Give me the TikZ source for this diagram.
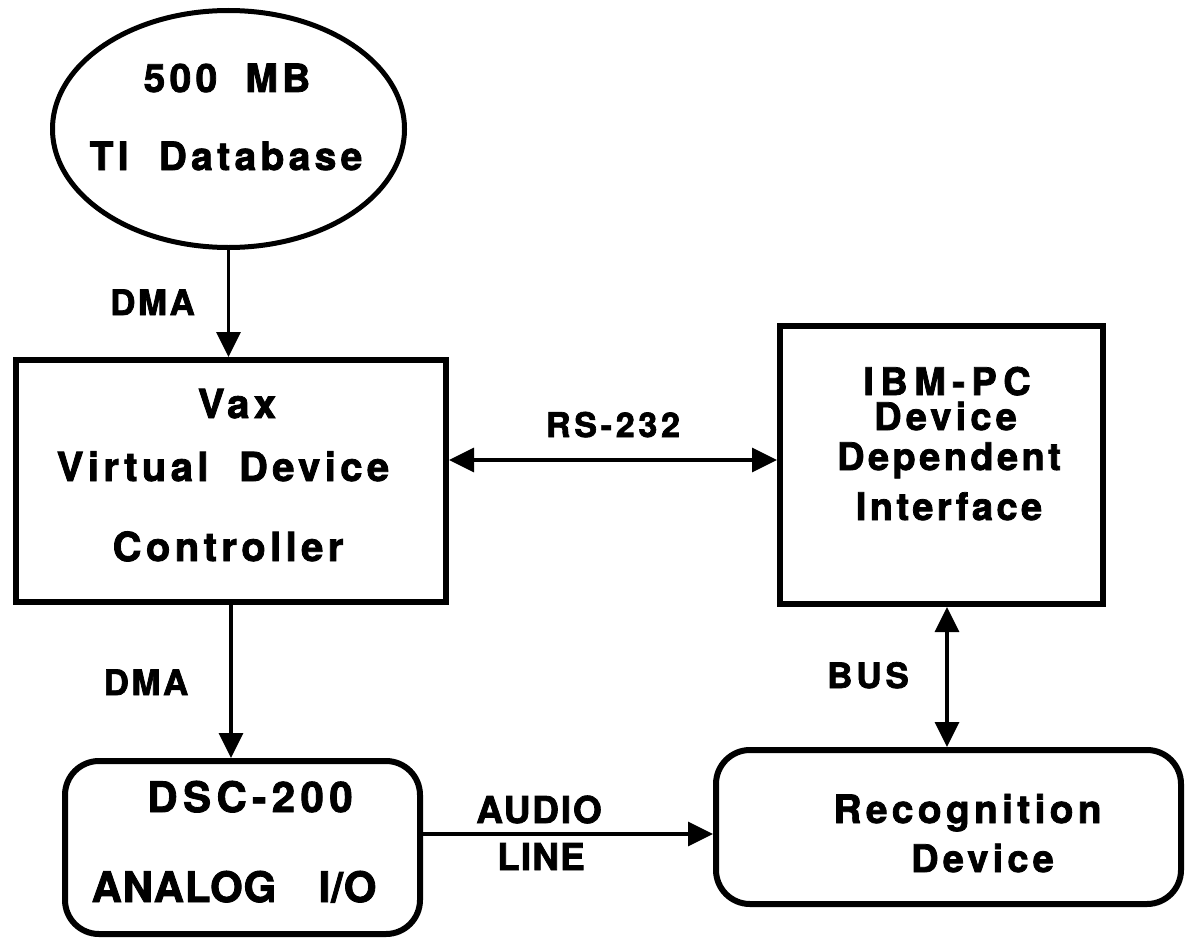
\documentclass[tikz,border=0pt]{standalone}
\usepackage{fontspec}
\setmainfont{TeX Gyre Heros}
\usetikzlibrary{shapes.geometric,arrows.meta}
\newcommand\tfnt[2]{\fontsize{#1}{#1}\selectfont\bfseries\addfontfeature{LetterSpace=#2,FakeBold=2}}
\tikzset{
  boxx/.style={draw, line width=6pt, inner sep=0pt, rectangle},
  rboxx/.style={boxx, rounded corners=34pt},
  ellx/.style={draw, line width=5pt, inner sep=0pt, ellipse},
  tx/.style={anchor=base, inner sep=0pt, font={\tfnt{40}{11}}},
  lbl/.style={anchor=base, inner sep=0pt, font={\tfnt{35}{7}}},
  arr/.style={line width=3.5pt, -{Triangle[length=25pt,width=24pt]}},
  biarr/.style={line width=3.5pt, {Triangle[length=25pt,width=24pt]}-{Triangle[length=25pt,width=24pt]}}
}
\begin{document}
\begin{tikzpicture}[x=1pt,y=-1pt]
\useasboundingbox (0,0) rectangle (1185,942);
% shapes
\node[ellx, minimum width=352pt, minimum height=237pt] (ell) at (228.5,129) {};
\node[boxx, minimum width=430pt, minimum height=242pt] (vax) at (231,481) {};
\node[boxx, minimum width=323pt, minimum height=278pt] (ibm) at (941.5,465) {};
\node[rboxx, minimum width=355pt, minimum height=173pt] (dsc) at (242.5,847.5) {};
\node[rboxx, minimum width=465pt, minimum height=154pt] (rec) at (948.5,827) {};
% texts
\node[tx, font={\tfnt{39}{11}}] (t1) at (227,92) {500\hspace{13pt} MB};
\node[tx, font={\tfnt{39}{11}}] (t2) at (226,170) {TI\hspace{15pt} Database};
\node[tx] (t3) at (237,418) {Vax};
\node[tx] (t4) at (223,481) {Virtual\hspace{15pt} Device};
\node[tx] (t5) at (228,561) {Controller};
\node[tx, font={\tfnt{38}{17}}] (t6) at (947,395) {IBM-PC};
\node[tx, font={\tfnt{38}{11}}] (t7) at (945.5,430) {Device};
\node[tx, font={\tfnt{38}{9}}] (t8) at (949,470) {Dependent};
\node[tx, font={\tfnt{38}{9}}] (t9) at (949,520) {Interface};
\node[tx, font={\tfnt{39}{11}}] (t10) at (967.5,823) {Recognition};
\node[tx, font={\tfnt{38}{11}}] (t11) at (982.5,872) {Device};
\node[tx, font={\tfnt{42}{13}}] (t12) at (250,812) {DSC-200};
\node[tx, font={\tfnt{42}{2}}] (t13) at (234,902) {ANALOG\hspace{30pt} I/O};
% labels
\node[lbl] (l1) at (152.5,315) {DMA};
\node[lbl] (l2) at (146,695) {DMA};
\node[lbl, font={\tfnt{34}{11}}] (l3) at (613,437) {RS-232};
\node[lbl, font={\tfnt{37}{5}}] (l4) at (539,823) {AUDIO};
\node[lbl, font={\tfnt{37}{3}}] (l5) at (541,870) {LINE};
\node[lbl, font={\tfnt{35}{11}}] (l6) at (868,688) {BUS};
% connectors
\draw[arr] (ell.south) -- (ell.south |- vax.north);
\draw[arr] (vax.south) -- (vax.south |- dsc.north);
\draw[biarr] ([yshift=5pt]ibm.west -| vax.east) -- ([yshift=5pt]ibm.west);
\draw[biarr] ([xshift=5.5pt]ibm.south) -- ([xshift=5.5pt]ibm.south |- rec.north);
\draw[arr] ([yshift=-7pt]rec.west -| dsc.east) -- ([yshift=-7pt]rec.west);
\end{tikzpicture}
\end{document}
